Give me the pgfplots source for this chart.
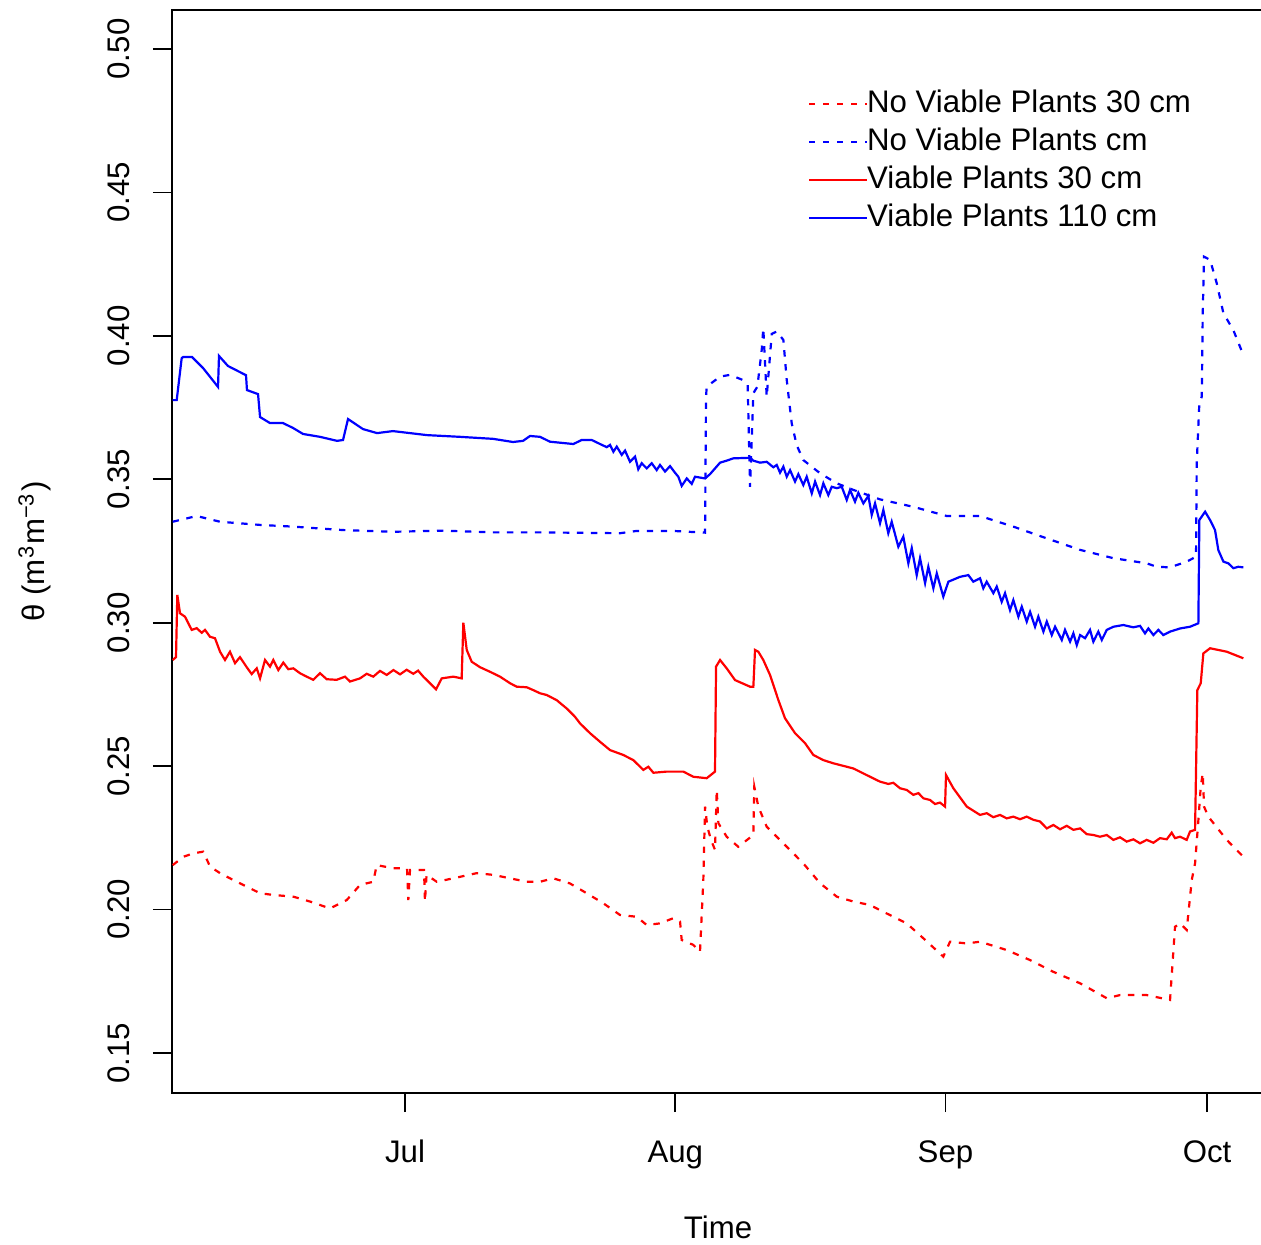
\documentclass[border=0pt]{standalone}
\usepackage{pgfplots}
\pgfplotsset{compat=1.18}
\usepackage{fontspec}
\setmainfont{Liberation Sans}
\begin{document}
\fontsize{7.8bp}{9.4bp}\selectfont
\begin{tikzpicture}
\path[use as bounding box] (-43bp,-38bp) rectangle (272.25bp,273.25bp);
\begin{axis}[
  at={(0,0)}, anchor=south west,
  width=273bp, height=270.75bp, scale only axis,
  xmin=-26.73, xmax=98.54, ymin=0.13606, ymax=0.5136,
  axis line style={line width=0.5bp},
  xtick={0,31,62,92}, xticklabels={Jul,Aug,Sep,Oct},
  ytick={0.15,0.20,0.25,0.30,0.35,0.40,0.45,0.50},
  yticklabels={0.15,0.20,0.25,0.30,0.35,0.40,0.45,0.50},
  tick align=outside, major tick length=4.75bp,
  xtick pos=bottom, ytick pos=left,
  tick style={line width=0.4bp, black},
  /pgf/number format/assume math mode=true,
  tick label style={inner sep=0pt},
  yticklabel style={rotate=90, anchor=base},
  xticklabel style={anchor=base},
  yticklabel shift=6bp,
  xticklabel shift=12.5bp,
  every axis x label/.style={at={(rel axis cs:0.5,-0.1348)}, anchor=base, inner sep=0pt},
  every axis y label/.style={at={(rel axis cs:-0.1255,0.5)}, rotate=90, anchor=center, inner sep=0pt},
  xlabel={Time},
  ylabel={θ (m\textsuperscript{3}m\textsuperscript{−3})},
  legend style={at={(rel axis cs:0.5824,0.9271)}, anchor=north west, draw=none, fill=none,
    inner sep=0pt, outer sep=0pt, row sep=1.9bp, column sep=-0.25bp,
    nodes={inner sep=0pt, text height=6bp, text depth=1.6bp, anchor=west}},
  legend cell align=left,
  legend image code/.code={\draw[#1] (0bp,0bp) -- (14.5bp,0bp);},
  every axis plot/.append style={line width=0.55bp},
]
\addplot[red, dash pattern=on 1.6bp off 1.9bp] table {
-26.65 0.2155
-25.43 0.2184
-24.29 0.2196
-23.14 0.2202
-22.37 0.2150
-21.22 0.2127
-19.70 0.2103
-18.16 0.2080
-16.63 0.2057
-15.11 0.2051
-12.81 0.2045
-10.90 0.2028
-8.60 0.2004
-6.69 0.2033
-5.16 0.2086
-3.64 0.2097
-3.25 0.2155
-1.34 0.2144
0.23 0.2144
0.38 0.2033
0.57 0.2138
1.72 0.2138
2.18 0.2138
2.29 0.2028
2.47 0.2121
3.64 0.2097
5.54 0.2109
8.22 0.2127
10.13 0.2121
12.05 0.2109
13.96 0.2097
15.49 0.2097
17.01 0.2109
18.93 0.2091
20.84 0.2057
22.75 0.2022
24.67 0.1981
26.58 0.1975
27.73 0.1946
29.25 0.1952
30.78 0.1970
31.55 0.1958
31.74 0.1894
33.07 0.1877
33.84 0.1853
34.22 0.2103
34.42 0.2359
34.68 0.2289
35.10 0.2243
35.56 0.2208
35.76 0.2417
35.95 0.2301
36.90 0.2254
38.23 0.2219
39.96 0.2260
40.07 0.2428
40.53 0.2359
41.49 0.2289
43.79 0.2219
45.69 0.2161
47.61 0.2092
49.53 0.2045
51.43 0.2028
53.35 0.2016
54.49 0.1998
57.55 0.1952
59.46 0.1900
61.75 0.1836
62.52 0.1888
64.44 0.1882
65.96 0.1888
69.02 0.1859
71.70 0.1824
74.37 0.1783
77.44 0.1743
80.50 0.1691
82.02 0.1702
85.08 0.1702
87.76 0.1685
88.33 0.1940
88.91 0.1952
89.67 0.1929
90.25 0.2103
90.63 0.2161
91.01 0.2312
91.28 0.2428
91.51 0.2475
91.66 0.2359
92.15 0.2324
94.26 0.2243
96.17 0.2184
};
\addlegendentry{No Viable Plants 30 cm}
\addplot[blue, dash pattern=on 1.6bp off 1.9bp] table {
-26.65 0.3352
-23.90 0.3372
-21.22 0.3352
-16.63 0.3341
-12.85 0.3335
-7.11 0.3323
-1.38 0.3317
4.36 0.3321
10.10 0.3315
15.49 0.3315
24.67 0.3312
26.58 0.3320
30.74 0.3320
34.42 0.3314
34.53 0.3788
34.61 0.3823
36.14 0.3858
37.28 0.3864
38.77 0.3846
39.31 0.3829
39.58 0.3474
39.96 0.3800
40.42 0.3823
40.92 0.3951
41.10 0.4027
41.49 0.3788
42.07 0.4007
42.64 0.4015
43.40 0.3986
43.79 0.3846
44.36 0.3695
44.93 0.3619
45.69 0.3567
47.61 0.3521
49.53 0.3486
51.43 0.3463
54.49 0.3430
58.31 0.3404
62.14 0.3372
65.96 0.3372
69.78 0.3335
73.62 0.3294
77.44 0.3254
81.26 0.3225
85.08 0.3207
86.23 0.3195
87.76 0.3193
89.67 0.3213
90.74 0.3230
90.82 0.3556
91.12 0.3765
91.40 0.3788
91.51 0.4079
91.66 0.4276
92.35 0.4265
93.12 0.4183
93.88 0.4079
95.02 0.4020
96.17 0.3933
};
\addlegendentry{No Viable Plants cm}
\addplot[red] table {
-26.65 0.2870
-26.27 0.2880
-26.12 0.3097
-25.81 0.3033
-25.24 0.3021
-24.47 0.2975
-23.90 0.2981
-23.32 0.2965
-22.94 0.2975
-22.37 0.2951
-21.80 0.2946
-21.22 0.2899
-20.65 0.2870
-20.08 0.2899
-19.50 0.2859
-18.93 0.2880
-18.16 0.2845
-17.59 0.2821
-17.01 0.2841
-16.63 0.2806
-16.06 0.2870
-15.49 0.2847
-15.11 0.2870
-14.53 0.2835
-13.96 0.2861
-13.39 0.2838
-12.81 0.2841
-12.05 0.2824
-11.28 0.2812
-10.52 0.2801
-9.75 0.2824
-8.98 0.2803
-7.84 0.2801
-6.88 0.2812
-6.31 0.2795
-5.16 0.2806
-4.40 0.2822
-3.64 0.2812
-2.87 0.2832
-2.10 0.2818
-1.33 0.2835
-0.57 0.2820
0.19 0.2836
0.95 0.2822
1.50 0.2833
2.10 0.2812
2.87 0.2789
3.56 0.2768
4.21 0.2806
5.54 0.2812
6.50 0.2806
6.69 0.3000
7.08 0.2905
7.65 0.2864
8.60 0.2845
9.75 0.2829
10.90 0.2812
12.05 0.2789
12.81 0.2777
13.96 0.2775
14.72 0.2765
15.49 0.2754
16.26 0.2748
17.40 0.2730
18.55 0.2701
19.50 0.2672
20.08 0.2649
21.22 0.2615
22.37 0.2585
23.52 0.2556
25.04 0.2539
26.19 0.2521
27.34 0.2487
27.91 0.2498
28.49 0.2477
30.02 0.2481
31.93 0.2481
33.07 0.2463
34.61 0.2458
35.56 0.2481
35.68 0.2847
36.14 0.2870
36.90 0.2841
37.86 0.2800
39.58 0.2777
39.96 0.2777
40.15 0.2905
40.53 0.2899
41.10 0.2870
41.87 0.2818
42.82 0.2731
43.59 0.2667
44.74 0.2615
45.89 0.2580
46.84 0.2539
47.99 0.2521
49.13 0.2510
51.43 0.2492
53.35 0.2463
54.49 0.2446
55.44 0.2438
56.02 0.2442
56.78 0.2423
57.55 0.2417
58.31 0.2400
58.89 0.2406
59.46 0.2388
60.23 0.2382
60.80 0.2368
61.37 0.2373
61.95 0.2359
62.06 0.2469
62.90 0.2423
64.44 0.2359
65.96 0.2330
66.73 0.2336
67.49 0.2322
68.26 0.2330
69.02 0.2318
69.78 0.2324
70.55 0.2315
71.32 0.2324
72.08 0.2313
72.85 0.2307
73.62 0.2283
74.37 0.2295
75.14 0.2280
75.91 0.2292
76.67 0.2278
77.44 0.2283
78.20 0.2263
78.96 0.2260
79.73 0.2254
80.50 0.2260
81.26 0.2243
82.02 0.2252
82.79 0.2237
83.55 0.2245
84.32 0.2231
85.08 0.2243
85.85 0.2233
86.61 0.2249
87.38 0.2245
87.95 0.2268
88.33 0.2249
88.91 0.2254
89.67 0.2243
90.05 0.2272
90.63 0.2278
90.89 0.2765
91.28 0.2789
91.58 0.2893
92.35 0.2911
94.26 0.2899
96.17 0.2876
};
\addlegendentry{Viable Plants 30 cm}
\addplot[blue] table {
-26.65 0.3776
-26.19 0.3776
-25.62 0.3922
-25.47 0.3926
-24.43 0.3926
-23.17 0.3888
-21.45 0.3822
-21.34 0.3930
-20.31 0.3895
-18.70 0.3870
-18.24 0.3863
-18.13 0.3811
-16.86 0.3797
-16.63 0.3717
-15.49 0.3696
-14.00 0.3696
-12.85 0.3679
-11.70 0.3658
-9.75 0.3648
-7.80 0.3634
-7.11 0.3637
-6.54 0.3710
-4.82 0.3675
-3.21 0.3661
-1.38 0.3668
2.52 0.3654
6.31 0.3648
10.10 0.3641
12.39 0.3630
13.54 0.3634
14.34 0.3651
15.49 0.3648
16.63 0.3631
19.31 0.3623
20.27 0.3637
21.42 0.3637
22.37 0.3623
23.14 0.3612
23.52 0.3620
23.90 0.3596
24.29 0.3614
24.86 0.3585
25.24 0.3600
25.81 0.3561
26.39 0.3579
26.76 0.3535
27.15 0.3556
27.73 0.3538
28.30 0.3556
28.87 0.3532
29.25 0.3550
29.83 0.3527
30.40 0.3546
30.97 0.3523
31.35 0.3509
31.74 0.3477
32.32 0.3503
32.89 0.3484
33.27 0.3509
34.42 0.3503
34.99 0.3518
36.14 0.3558
36.90 0.3565
37.66 0.3573
39.58 0.3575
39.96 0.3565
40.73 0.3558
41.49 0.3561
42.25 0.3542
42.64 0.3550
43.02 0.3523
43.40 0.3544
43.79 0.3509
44.17 0.3532
44.74 0.3492
45.12 0.3518
45.69 0.3480
46.08 0.3509
46.66 0.3451
47.04 0.3492
47.61 0.3445
47.99 0.3486
48.56 0.3445
48.95 0.3474
49.53 0.3469
50.10 0.3474
50.67 0.3428
51.05 0.3463
51.62 0.3422
52.00 0.3453
52.58 0.3416
53.15 0.3442
53.54 0.3376
53.92 0.3416
54.49 0.3347
54.87 0.3393
55.44 0.3312
55.83 0.3352
56.59 0.3265
57.16 0.3300
57.74 0.3207
58.13 0.3260
58.70 0.3166
59.08 0.3225
59.66 0.3138
60.03 0.3195
60.61 0.3120
61.00 0.3172
61.75 0.3091
62.33 0.3143
63.67 0.3160
64.62 0.3166
65.19 0.3143
65.96 0.3155
66.34 0.3120
66.73 0.3143
67.49 0.3103
67.88 0.3126
68.45 0.3073
68.83 0.3103
69.40 0.3044
69.78 0.3079
70.36 0.3021
70.75 0.3056
71.32 0.3004
71.70 0.3038
72.27 0.2986
72.65 0.3021
73.23 0.2969
73.62 0.3004
74.19 0.2957
74.57 0.2986
75.34 0.2940
75.71 0.2975
76.29 0.2934
76.67 0.2963
77.06 0.2922
77.44 0.2957
78.01 0.2946
78.58 0.2975
78.96 0.2934
79.53 0.2969
79.93 0.2940
80.50 0.2975
81.26 0.2986
82.40 0.2992
83.55 0.2984
84.32 0.2989
84.89 0.2963
85.27 0.2980
85.85 0.2957
86.42 0.2975
86.99 0.2957
87.76 0.2969
88.91 0.2980
90.05 0.2986
91.01 0.2998
91.12 0.3358
91.78 0.3387
92.35 0.3358
92.92 0.3323
93.30 0.3253
93.88 0.3213
94.45 0.3207
95.02 0.3190
95.59 0.3195
96.17 0.3193
};
\addlegendentry{Viable Plants 110 cm}
\end{axis}
\end{tikzpicture}
\end{document}
